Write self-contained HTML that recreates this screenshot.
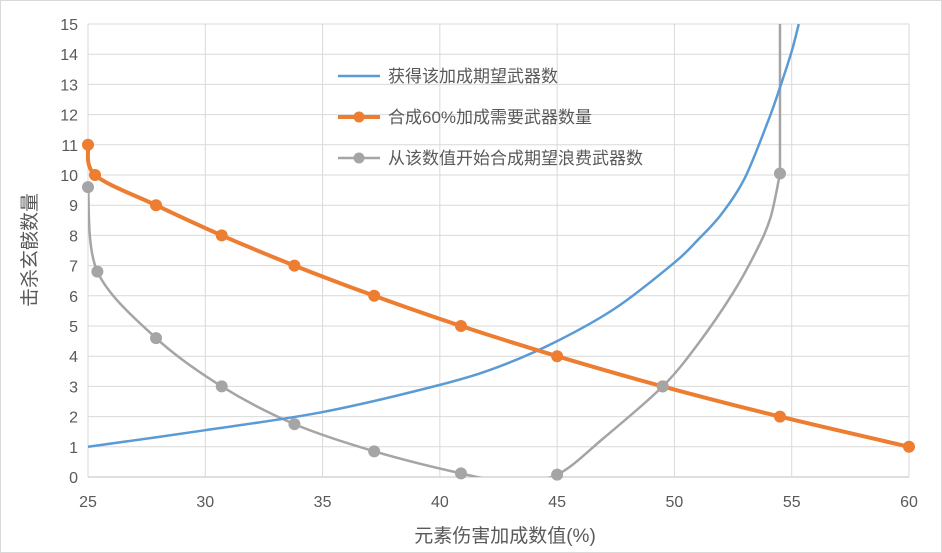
<!DOCTYPE html>
<html><head><meta charset="utf-8"><style>
body{margin:0;background:#fff}
svg{display:block;font-family:"Liberation Sans","Noto Sans CJK SC",sans-serif}
</style></head><body>
<svg id="chart" width="942" height="553" viewBox="0 0 942 553">
<rect x="0.5" y="0.5" width="941" height="552" fill="#fff" stroke="#d9d9d9"/>
<g id="grid"></g><g id="series"></g><g id="axes"></g>
<g font-size="17" fill="#595959">
<g><line x1="338" y1="76" x2="380" y2="76" stroke="#5b9bd5" stroke-width="2.5"/><text x="388" y="82">获得该加成期望武器数</text></g>
<g><line x1="338" y1="117" x2="380" y2="117" stroke="#ed7d31" stroke-width="4"/><circle cx="359" cy="117" r="5.5" fill="#ed7d31"/><text x="388" y="123">合成60%加成需要武器数量</text></g>
<g><line x1="338" y1="158" x2="380" y2="158" stroke="#a5a5a5" stroke-width="2.5"/><circle cx="359" cy="158" r="5.5" fill="#a5a5a5"/><text x="388" y="164">从该数值开始合成期望浪费武器数</text></g>
</g>
<text x="505" y="542" text-anchor="middle" font-size="19" fill="#595959">元素伤害加成数值(%)</text>
<text transform="translate(36,250) rotate(-90)" text-anchor="middle" font-size="19" fill="#595959">击杀玄骸数量</text>
</svg>
<script>
const xTicks=[25,30,35,40,45,50,55,60];
const yTicks=[0,1,2,3,4,5,6,7,8,9,10,11,12,13,14,15];
const blueX=[25,30,35,40,42.5,45,47.5,50,51,52,53,54,54.5,55,55.3];
const blueY=[1,1.55,2.15,3.05,3.65,4.5,5.6,7.1,7.85,8.7,9.9,11.8,12.9,14.1,15];
const orangeX=[25,25.3,27.9,30.7,33.8,37.2,40.9,45,49.5,54.5,60];
const orangeY=[11,10,9,8,7,6,5,4,3,2,1];
const grayX=[25,25.4,27.9,30.7,33.8,37.2,40.9,45,49.5,54.5];
const grayY=[9.6,6.8,4.6,3.0,1.75,0.85,0.12,0.08,3.0,10.05];
const grayCurveX=[25,25.4,27.9,30.7,33.8,37.2,40.9,43,45,47,49.5,51,52.5,53.5,54.1,54.5];
const grayCurveY=[9.6,6.8,4.6,3.0,1.75,0.85,0.12,-0.15,0.08,1.3,3.0,4.4,6.1,7.5,8.6,10.05];
const grayTopX=54.5, grayTopY=15;
const X0=88,X1=909,Y0=477,Y1=24;
function sx(v){return X0+(v-25)/(60-25)*(X1-X0);}
function sy(v){return Y0-(v-0)/(15-0)*(Y0-Y1);}
const NS="http://www.w3.org/2000/svg";
function mk(tag,attrs,parent){const e=document.createElementNS(NS,tag);for(const k in attrs)e.setAttribute(k,attrs[k]);parent.appendChild(e);return e;}
const grid=document.getElementById('grid'),axes=document.getElementById('axes'),ser=document.getElementById('series');
yTicks.forEach(t=>{
 const l=mk('line',{x1:X0,x2:X1,y1:sy(t),y2:sy(t),stroke:t===0?'#bfbfbf':'#d9d9d9','stroke-width':1},grid);
 
 
 const tx=mk('text',{x:X0-10,y:sy(t)+6,'text-anchor':'end','font-size':16,fill:'#595959'},axes);
 tx.textContent=t;
 
 
});
xTicks.forEach(t=>{
 const l=mk('line',{x1:sx(t),x2:sx(t),y1:Y1,y2:Y0,stroke:'#d9d9d9','stroke-width':1},grid);
 
 
 const tx=mk('text',{x:sx(t),y:Y0+30,'text-anchor':'middle','font-size':16,fill:'#595959'},axes);
 tx.textContent=t;
 
 
});
function smooth(xs,ys){
 const p=xs.map((x,i)=>[sx(x),sy(ys[i])]);
 let d='M'+p[0][0]+','+p[0][1];
 for(let i=0;i<p.length-1;i++){
  const p0=p[Math.max(0,i-1)],p1=p[i],p2=p[i+1],p3=p[Math.min(p.length-1,i+2)];
  const t=0.16;
  const c1=[p1[0]+(p2[0]-p0[0])*t,p1[1]+(p2[1]-p0[1])*t];
  const c2=[p2[0]-(p3[0]-p1[0])*t,p2[1]-(p3[1]-p1[1])*t];
  d+=' C'+c1[0]+','+c1[1]+' '+c2[0]+','+c2[1]+' '+p2[0]+','+p2[1];
 }
 return d;
}
mk('clipPath',{id:'clip'},ser).appendChild(document.createElementNS(NS,'rect'));
const cr=ser.querySelector('#clip rect');cr.setAttribute('x',X0);cr.setAttribute('y',Y1);cr.setAttribute('width',X1-X0+10);cr.setAttribute('height',Y0-Y1);
const gp=mk('path',{d:smooth(grayCurveX,grayCurveY)+' L'+sx(grayTopX)+','+sy(grayTopY),fill:'none',stroke:'#a5a5a5','stroke-width':2.5,'clip-path':'url(#clip)'},ser);


const bp=mk('path',{d:smooth(blueX,blueY),fill:'none',stroke:'#5b9bd5','stroke-width':2.5,'clip-path':'url(#clip)'},ser);


const op=mk('path',{d:smooth(orangeX,orangeY),fill:'none',stroke:'#ed7d31','stroke-width':4},ser);


orangeX.forEach((x,i)=>{const c=mk('circle',{cx:sx(x),cy:sy(orangeY[i]),r:6,fill:'#ed7d31'},ser);
 
 });
grayX.forEach((x,i)=>{const c=mk('circle',{cx:sx(x),cy:sy(grayY[i]),r:6,fill:'#a5a5a5'},ser);
 
 });
</script>
</body></html>
